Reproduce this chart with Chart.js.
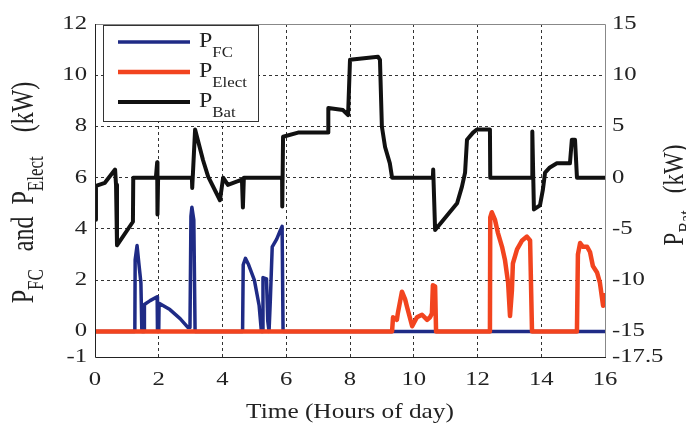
<!DOCTYPE html>
<html>
<head>
<meta charset="utf-8">
<script src="https://cdn.jsdelivr.net/npm/chart.js@4.4.0/dist/chart.umd.min.js"></script>
<style>
  body { margin: 0; background: #fff; }
  #grafico { display: block; }
</style>
</head>
<body>
<canvas id="grafico" width="686" height="426"></canvas>
<script>
// ticks
const horasTicks = [0, 2, 4, 6, 8, 10, 12, 14, 16];
const ticksIzq = [-1, 0, 2, 4, 6, 8, 10, 12];
const ticksDer = [-17.5, -15, -10, -5, 0, 5, 10, 15];

// P_FC (kW, eje izquierdo)
const fcHoras = [0, 1.25, 1.26, 1.32, 1.38, 1.44, 1.47, 1.54, 1.55, 1.73, 1.95, 1.96, 2.0, 2.01, 2.35, 2.67, 2.92, 2.98, 3.01, 3.04, 3.1, 3.14,
  4.63, 4.65, 4.72, 4.82, 5.0, 5.15, 5.22, 5.25, 5.27, 5.38, 5.42, 5.46, 5.5, 5.56, 5.7, 5.8, 5.87, 5.9, 16];
const fcPotencia = [0, 0, 2.8, 3.35, 2.6, 1.9, 0, 0, 1.05, 1.2, 1.35, 0, 0, 1.1, 0.85, 0.5, 0.15, 0.15, 4.5, 4.85, 4.35, 0,
  0, 2.6, 2.85, 2.6, 2.0, 1.0, 0, 0, 2.1, 2.05, 0.4, 0, 1.2, 3.3, 3.6, 3.9, 4.1, 0, 0];

// P_Elect (kW, eje izquierdo)
const elHoras = [0, 9.32, 9.35, 9.47, 9.5, 9.63, 9.73, 9.79, 9.95, 10.1, 10.26, 10.42, 10.51, 10.57, 10.6, 10.67, 10.7,
  12.39, 12.4, 12.45, 12.55, 12.64, 12.77, 12.86, 12.96, 13.02, 13.08, 13.11, 13.24, 13.4, 13.55, 13.65, 13.71,
  15.12, 15.15, 15.22, 15.31, 15.44, 15.53, 15.62, 15.75, 15.84, 15.94, 16];
const elPotencia = [0, 0, 0.55, 0.45, 0.7, 1.55, 1.25, 0.95, 0.2, 0.55, 0.65, 0.45, 0.55, 0.7, 1.8, 1.75, 0,
  0, 4.45, 4.65, 4.35, 3.85, 3.3, 2.8, 1.9, 0.6, 1.6, 2.65, 3.2, 3.55, 3.7, 3.55, 0,
  0, 3.0, 3.45, 3.3, 3.3, 3.1, 2.55, 2.3, 1.9, 1.0, 1.5];

// P_Bat (kW, eje derecho)
const batHoras = [0, 0.03, 0.31, 0.63, 0.66, 0.69, 1.19, 1.2, 1.91, 1.95, 1.96, 1.98, 3.04, 3.05, 3.14, 3.39, 3.55, 3.92, 4.02, 4.17, 4.61, 4.64, 4.67,
  5.87, 5.875, 5.9, 6.37, 7.31, 7.32, 7.78, 7.94, 8.0, 8.88, 8.94, 9.0, 9.1, 9.25, 9.32,
  10.6, 10.61, 10.67, 11.36, 11.51, 11.61, 11.67, 11.86, 11.98, 12.39, 12.4,
  13.71, 13.72, 13.77, 13.96, 14.05, 14.12, 14.27, 14.49, 14.9, 14.96, 15.06, 15.12, 16];
const batPotencia = [-4.1, -0.8, -0.5, 0.8, -0.7, -6.6, -4.3, 0, 0, 1.5, -3.6, 0, 0, -1, 4.7, 1.7, 0.1, -2.2, 0, -0.7, -0.2, -2.9, 0,
  0, -2.8, 4.0, 4.4, 4.4, 6.8, 6.6, 6.1, 11.5, 11.8, 11.5, 5.0, 3.0, 1.4, 0,
  0, 0.8, -5.1, -2.5, -0.9, 0.5, 3.7, 4.4, 4.7, 4.7, 0,
  0, 4.5, -3.1, -2.7, -1.2, 0.5, 1.0, 1.4, 1.4, 3.7, 3.7, 0, 0];

const FUENTE = "'Liberation Serif', 'DejaVu Serif', serif";
const AZUL = "#1f2b86";
const ROJO = "#f2441f";
const NEGRO = "#111111";

function puntos(horas, valores) {
  return horas.map((h, i) => ({ x: h, y: valores[i] }));
}

function textoEstirado(ctx, txt, x, y, sx, align) {
  ctx.save();
  ctx.translate(x, y);
  ctx.scale(sx, 1);
  ctx.textAlign = align;
  ctx.fillText(txt, 0, 0);
  ctx.restore();
}

// partes: [texto, esSubindice]
function anchoPartes(ctx, partes, tam, tamSub) {
  let ancho = 0;
  partes.forEach(p => {
    ctx.font = (p[1] ? tamSub : tam) + "px " + FUENTE;
    ancho += ctx.measureText(p[0]).width;
  });
  return ancho;
}

function dibujarPartes(ctx, partes, x0, tam, tamSub, bajada) {
  let x = x0;
  partes.forEach(p => {
    ctx.font = (p[1] ? tamSub : tam) + "px " + FUENTE;
    ctx.fillText(p[0], x, p[1] ? bajada : 0);
    x += ctx.measureText(p[0]).width;
  });
}

const textos = {
  id: "textos",
  afterDraw(chart) {
    const ctx = chart.ctx;
    const a = chart.chartArea;
    const sx = chart.scales.x, sy = chart.scales.y, sy2 = chart.scales.y2;

    // marco
    ctx.save();
    ctx.lineWidth = 1;
    ctx.strokeStyle = "#888";
    ctx.beginPath();
    ctx.moveTo(a.left, a.top + 0.5); ctx.lineTo(a.right + 0.5, a.top + 0.5); ctx.lineTo(a.right + 0.5, a.bottom);
    ctx.stroke();
    ctx.strokeStyle = "#222";
    ctx.beginPath();
    ctx.moveTo(a.left + 0.5, a.top); ctx.lineTo(a.left + 0.5, a.bottom + 0.5); ctx.lineTo(a.right + 1, a.bottom + 0.5);
    ctx.stroke();
    ctx.restore();

    // etiquetas de ticks
    ctx.save();
    ctx.fillStyle = "#222";
    ctx.font = "19px " + FUENTE;
    ctx.textBaseline = "middle";
    horasTicks.forEach(v => textoEstirado(ctx, String(v), sx.getPixelForValue(v), 380, 1.3, "center"));
    ticksIzq.forEach(v => textoEstirado(ctx, String(v), 87, sy.getPixelForValue(v), 1.3, "right"));
    ticksDer.forEach(v => textoEstirado(ctx, String(v), 612, sy2.getPixelForValue(v), 1.3, "left"));
    ctx.textBaseline = "alphabetic";
    ctx.font = "22px " + FUENTE;
    textoEstirado(ctx, "Time (Hours of day)", (a.left + a.right) / 2, 418, 1.15, "center");
    ctx.restore();

    // titulo eje izquierdo
    const izq = [["P", false], ["FC", true], ["   and  P", false], ["Elect", true], ["    (kW)", false]];
    ctx.save();
    ctx.fillStyle = "#222";
    ctx.translate(33, (a.top + a.bottom) / 2 + 2);
    ctx.rotate(-Math.PI / 2);
    ctx.scale(1, 1.3);
    let w = anchoPartes(ctx, izq, 24, 17);
    dibujarPartes(ctx, izq, -w / 2, 24, 17, 8);
    ctx.restore();

    // titulo eje derecho
    const der = [["P", false], ["Bat", true], ["   (kW)", false]];
    ctx.save();
    ctx.fillStyle = "#222";
    ctx.translate(683, 195);
    ctx.rotate(-Math.PI / 2);
    ctx.scale(1, 1.3);
    w = anchoPartes(ctx, der, 23, 16);
    dibujarPartes(ctx, der, -w / 2, 23, 16, 8);
    ctx.restore();

    // leyenda
    ctx.save();
    ctx.fillStyle = "#fff";
    ctx.fillRect(103, 25, 155, 96);
    ctx.strokeStyle = "#333";
    ctx.lineWidth = 1;
    ctx.strokeRect(103.5, 25.5, 155, 96);
    const entradas = [[AZUL, "FC", 3.5], [ROJO, "Elect", 4.5], [NEGRO, "Bat", 4]];
    entradas.forEach((e, i) => {
      const y = 42 + i * 30;
      ctx.strokeStyle = e[0];
      ctx.lineWidth = e[2];
      ctx.beginPath();
      ctx.moveTo(118, y);
      ctx.lineTo(190, y);
      ctx.stroke();
      ctx.fillStyle = "#222";
      ctx.save();
      ctx.translate(199, y + 5);
      ctx.scale(1.2, 1);
      dibujarPartes(ctx, [["P", false], [e[1], true]], 0, 20, 14, 10);
      ctx.restore();
    });
    ctx.restore();
  }
};

const ctx = document.getElementById("grafico").getContext("2d");

new Chart(ctx, {
  type: "line",
  data: {
    datasets: [
      { label: "P_FC", data: puntos(fcHoras, fcPotencia), borderColor: AZUL, borderWidth: 3.5, yAxisID: "y", order: 2 },
      { label: "P_Elect", data: puntos(elHoras, elPotencia), borderColor: ROJO, borderWidth: 4.5, yAxisID: "y", order: 1 },
      { label: "P_Bat", data: puntos(batHoras, batPotencia), borderColor: NEGRO, borderWidth: 4, yAxisID: "y2", order: 0 }
    ]
  },
  options: {
    responsive: false,
    animation: false,
    layout: { padding: { top: 24, left: 0, right: 0, bottom: 0 } },
    elements: {
      point: { radius: 0 },
      line: { tension: 0, borderJoinStyle: "round", fill: false }
    },
    plugins: {
      legend: { display: false },
      tooltip: { enabled: false }
    },
    scales: {
      x: {
        type: "linear",
        min: 0,
        max: 16,
        afterBuildTicks: axis => { axis.ticks = horasTicks.map(v => ({ value: v })); },
        afterFit: axis => { axis.height = 69; },
        ticks: { display: false },
        border: { display: false, dash: [3, 3] },
        grid: {
          drawTicks: false,
          lineWidth: 1,
          color: c => (c.tick && (c.tick.value === 0 || c.tick.value === 16)) ? "rgba(0,0,0,0)" : "#333"
        }
      },
      y: {
        position: "left",
        min: -1,
        max: 12,
        afterBuildTicks: axis => { axis.ticks = ticksIzq.map(v => ({ value: v })); },
        afterFit: axis => { axis.width = 95; },
        ticks: { display: false },
        border: { display: false, dash: [3, 3] },
        grid: {
          drawTicks: false,
          lineWidth: 1,
          color: c => (c.tick && [-1, 0, 12].includes(c.tick.value)) ? "rgba(0,0,0,0)" : "#333"
        }
      },
      y2: {
        position: "right",
        min: -17.5,
        max: 15,
        afterBuildTicks: axis => { axis.ticks = ticksDer.map(v => ({ value: v })); },
        afterFit: axis => { axis.width = 81; },
        ticks: { display: false },
        border: { display: false },
        grid: { display: false, drawTicks: false }
      }
    }
  },
  plugins: [textos]
});
</script>
</body>
</html>
